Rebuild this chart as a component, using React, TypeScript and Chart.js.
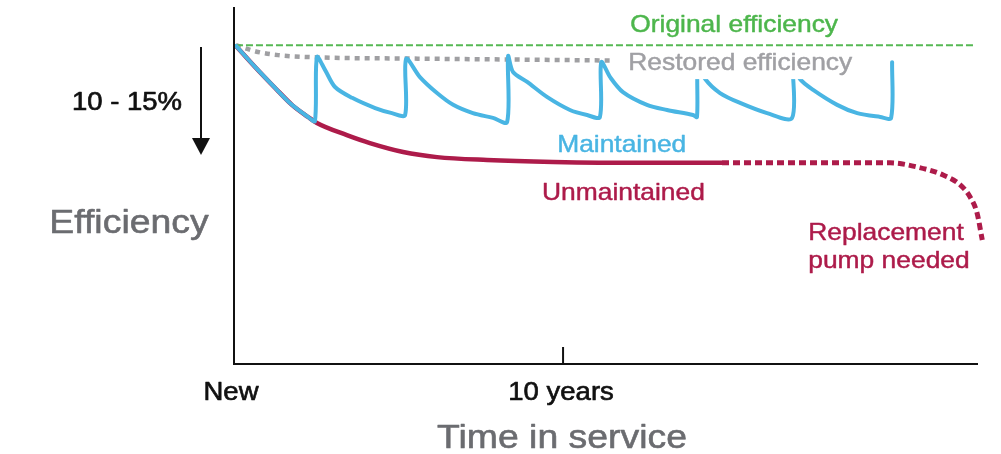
import React, { useEffect, useRef } from "react";
import { Chart, registerables } from "chart.js";

Chart.register(...registerables);

// ---- data (x: years in service, y: relative efficiency) ----
const X_MAX = 22.61;
const Y_MAX = 112;
const xTickValues = [0, 10];
const xTickLabels = ["New", "10 years"];

const original: [number, number][] = [
  [0.06, 100],
  [22.46, 100],
];

const restored: [number, number][] = [
  [0.06, 100],
  [0.73, 97.9],
  [1.34, 96.9],
  [2.25, 96.3],
  [5.59, 95.8],
  [8.69, 95.5],
  [11.52, 95.2],
];

const maintained: [number, number][] = [
  [0.06, 99.8], [0.64, 93.2], [1.25, 86.6], [1.76, 81.3], [2.25, 77.5], [2.46, 76.2],
  [2.52, 96.3], [2.77, 92.2], [3.07, 86.9], [3.59, 83.5], [4.29, 80.3], [4.8, 78.7], [5.2, 78.1],
  [5.23, 95.7], [5.65, 90.0], [6.17, 85.0], [6.66, 81.3], [7.26, 78.7], [7.87, 77.2], [8.3, 75.9],
  [8.33, 96.6], [8.48, 91.6], [8.91, 88.5], [9.51, 83.8], [10.21, 79.7], [10.73, 78.1], [11.12, 77.5],
  [11.16, 94.7], [11.43, 90.0], [11.82, 85.3], [12.55, 81.3], [13.16, 79.7], [13.95, 78.1], [14.07, 77.5],
  [14.1, 94.4], [14.32, 89.4], [14.77, 85.0], [15.38, 81.9], [16.2, 78.7], [16.96, 77.2],
  [16.99, 94.4], [17.2, 89.4], [17.6, 86.0], [18.33, 81.3], [18.94, 78.7], [19.64, 77.5], [19.97, 77.2],
  [20.0, 94.7],
];

const unmaintained: [number, number][] = [
  [0.06, 99.8], [0.64, 93.2], [1.25, 86.6], [1.76, 81.3], [2.25, 77.5], [2.52, 75.6],
  [3.43, 71.8], [4.13, 69.3], [5.14, 66.5], [6.17, 64.9], [7.69, 64.0], [9.7, 63.4],
  [12.34, 63.1], [14.83, 63.1],
];

const failing: [number, number][] = [
  [14.83, 63.1], [17.2, 63.1], [19.94, 63.1], [20.76, 61.8], [21.55, 59.3],
  [22.07, 56.2], [22.37, 52.4], [22.58, 47.4], [22.74, 38.9],
];

// ---- styling ----
const FONT = '"Liberation Sans", Arial, Helvetica, sans-serif';
const STRETCH = 1.1;
const GREEN = "#55b853";
const GREEN_TEXT = "#4db64c";
const BLUE = "#49b5e3";
const RED = "#ad1b4a";
const GRAY_DOT = "#9f9fa2";
const GRAY_TEXT = "#a0a0a4";
const TITLE_GRAY = "#6b6c70";

const toXY = (arr: [number, number][]) => arr.map(([x, y]) => ({ x, y }));

function drawText(
  ctx: CanvasRenderingContext2D,
  text: string,
  x: number,
  y: number,
  size: number,
  color: string,
  align: CanvasTextAlign = "left",
  weight = 0.45
) {
  ctx.save();
  ctx.translate(x, y);
  ctx.scale(STRETCH, 1);
  ctx.font = `${size}px ${FONT}`;
  ctx.fillStyle = color;
  ctx.strokeStyle = color;
  ctx.lineWidth = weight;
  ctx.lineJoin = "round";
  ctx.textAlign = align;
  ctx.textBaseline = "alphabetic";
  ctx.fillText(text, 0, 0);
  if (weight > 0) ctx.strokeText(text, 0, 0);
  ctx.restore();
}

const decorations = {
  id: "decorations",
  afterDatasetsDraw(chart: any) {
    const ctx: CanvasRenderingContext2D = chart.ctx;
    const xs = chart.scales.x;
    const ys = chart.scales.y;
    const area = chart.chartArea;
    const px = (v: number) => xs.getPixelForValue(v);
    const py = (v: number) => ys.getPixelForValue(v);

    // white box behind "Restored efficiency"
    ctx.save();
    ctx.font = `24px ${FONT}`;
    const rw = ctx.measureText("Restored efficiency").width * STRETCH;
    ctx.fillStyle = "#ffffff";
    const rx = px(11.98);
    const ry = py(92.2);
    ctx.fillRect(rx - 3, ry - 21, rw + 6, 30);
    ctx.restore();

    // in-plot labels
    drawText(ctx, "Original efficiency", px(12.04), py(104.2), 24, GREEN_TEXT);
    drawText(ctx, "Restored efficiency", rx, ry, 24, GRAY_TEXT);
    drawText(ctx, "Maintained", px(9.82), py(66.5), 24, BLUE);
    drawText(ctx, "Unmaintained", px(9.36), py(51.5), 24, RED);
    drawText(ctx, "Replacement", px(17.45), py(38.9), 24, RED);
    drawText(ctx, "pump needed", px(17.45), py(30.1), 24, RED);

    // axes
    ctx.save();
    ctx.strokeStyle = "#111111";
    ctx.lineWidth = 2;
    ctx.beginPath();
    ctx.moveTo(area.left, area.top);
    ctx.lineTo(area.left, area.bottom);
    ctx.lineTo(area.right, area.bottom);
    ctx.stroke();
    xTickValues.forEach((v) => {
      if (v === 0) return;
      const tx = px(v);
      ctx.beginPath();
      ctx.moveTo(tx, area.bottom);
      ctx.lineTo(tx, area.bottom - 17);
      ctx.stroke();
    });
    ctx.restore();

    // tick labels
    xTickValues.forEach((v, i) => {
      const tx = v === 0 ? px(v) - 3 : px(v) - 2;
      drawText(ctx, xTickLabels[i], tx, area.bottom + 36, 25, "#111111", "center", 0.65);
    });

    // axis titles
    drawText(ctx, "Time in service", (area.left + area.right) / 2 - 44, area.bottom + 84, 34, TITLE_GRAY, "center", 0.6);
    drawText(ctx, "Efficiency", 129, 233, 34, TITLE_GRAY, "center", 0.6);

    // 10 - 15% annotation with arrow
    drawText(ctx, "10 - 15%", 127, 110, 25, "#111111", "center", 0.65);
    ctx.save();
    ctx.strokeStyle = "#111111";
    ctx.fillStyle = "#111111";
    ctx.lineWidth = 2;
    ctx.beginPath();
    ctx.moveTo(201, 47);
    ctx.lineTo(201, 140);
    ctx.stroke();
    ctx.beginPath();
    ctx.moveTo(192, 138);
    ctx.lineTo(210, 138);
    ctx.lineTo(201, 155);
    ctx.closePath();
    ctx.fill();
    ctx.restore();
  },
};

export default function App() {
  const canvasRef = useRef<HTMLCanvasElement | null>(null);

  useEffect(() => {
    if (!canvasRef.current) return;
    const chart = new Chart(canvasRef.current, {
      type: "line",
      data: {
        datasets: [
          {
            label: "Maintained",
            data: toXY(maintained),
            borderColor: BLUE,
            borderWidth: 4,
            borderJoinStyle: "round",
            borderCapStyle: "round",
            pointRadius: 0,
            tension: 0.3,
          },
          {
            label: "Original efficiency",
            data: toXY(original),
            borderColor: GREEN,
            borderWidth: 2,
            borderDash: [7, 3],
            pointRadius: 0,
            tension: 0,
          },
          {
            label: "Restored efficiency",
            data: toXY(restored),
            borderColor: GRAY_DOT,
            borderWidth: 4.5,
            borderDash: [5, 5],
            pointRadius: 0,
            cubicInterpolationMode: "monotone",
          },
          {
            label: "Unmaintained",
            data: toXY(unmaintained),
            borderColor: RED,
            borderWidth: 4.5,
            pointRadius: 0,
            cubicInterpolationMode: "monotone",
          },
          {
            label: "Replacement pump needed",
            data: toXY(failing),
            borderColor: RED,
            borderWidth: 5,
            borderDash: [7, 4],
            pointRadius: 0,
            cubicInterpolationMode: "monotone",
            clip: false,
          } as any,
        ],
      },
      options: {
        responsive: false,
        animation: false,
        events: [],
        layout: { padding: { left: 234, top: 7, right: 23, bottom: 90 } },
        plugins: {
          legend: { display: false },
          tooltip: { enabled: false },
          title: { display: false },
        },
        scales: {
          x: { type: "linear", min: 0, max: X_MAX, display: false },
          y: { type: "linear", min: 0, max: Y_MAX, display: false },
        },
      },
      plugins: [decorations],
    });
    return () => chart.destroy();
  }, []);

  return (
    <div style={{ position: "fixed", left: 0, top: 0, width: 1001, height: 454, background: "#fff" }}>
      <canvas ref={canvasRef} width={1001} height={454} style={{ display: "block" }} />
    </div>
  );
}
